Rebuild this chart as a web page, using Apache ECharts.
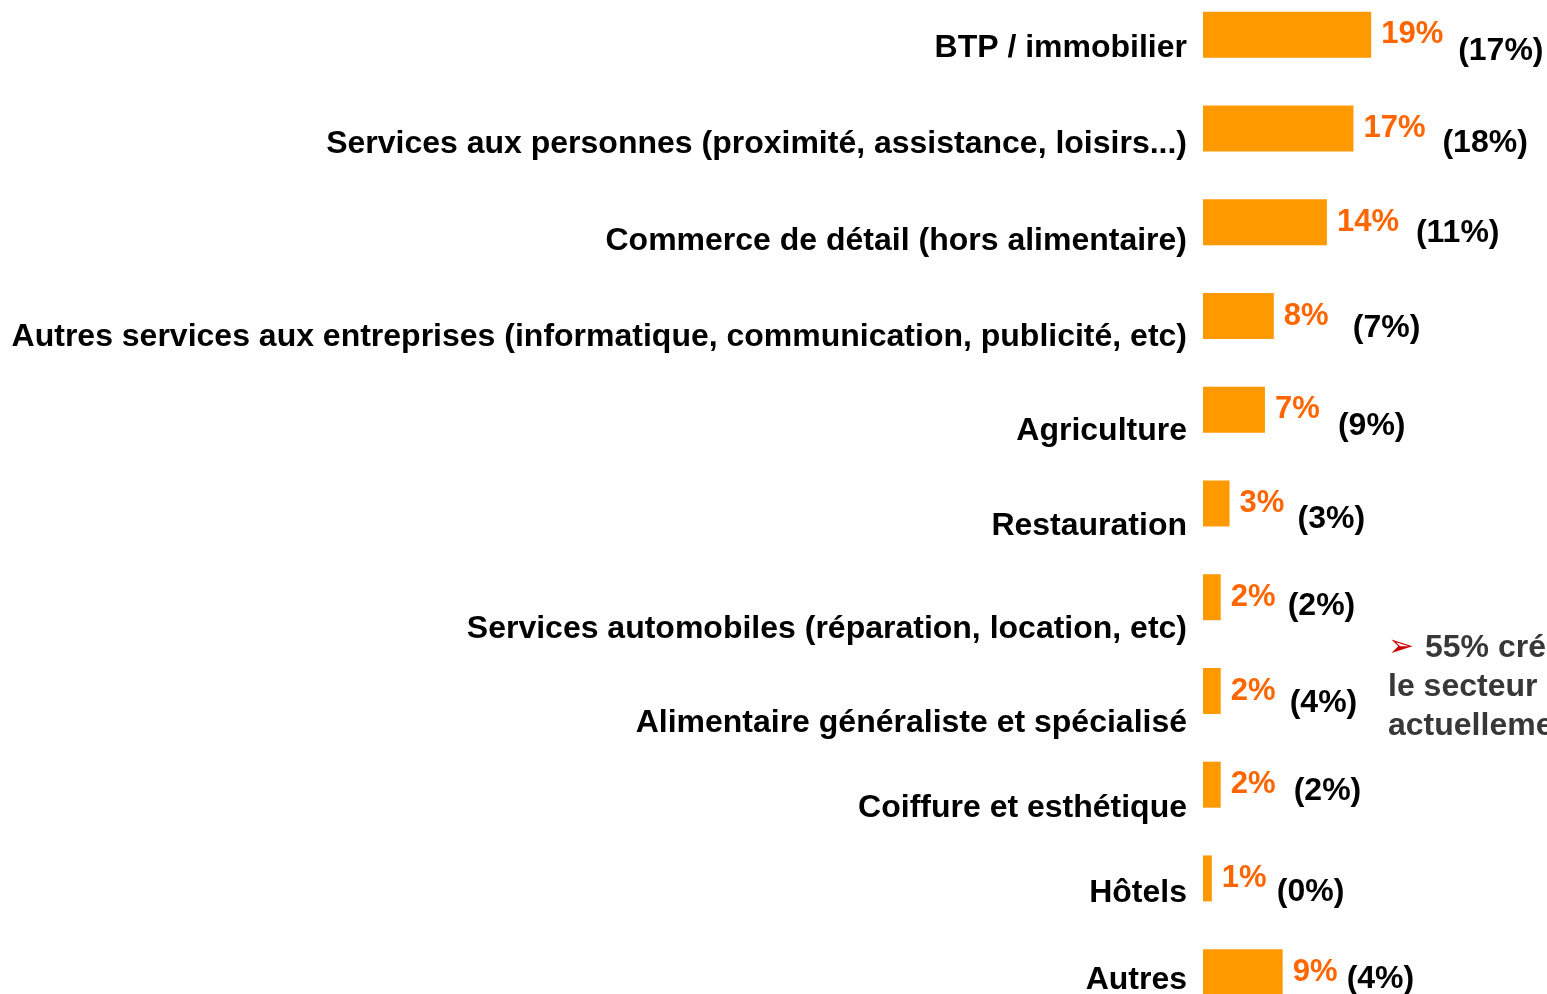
<!DOCTYPE html>
<html>
<head>
<meta charset="utf-8">
<script src="https://cdn.jsdelivr.net/npm/echarts@6/dist/echarts.min.js"></script>
<style>
  html, body { margin: 0; padding: 0; background: #fff; }
  #chart { width: 1547px; height: 994px; }
</style>
</head>
<body>
<div id="chart"></div>
<script>
const categories = [
  "BTP / immobilier",
  "Services aux personnes (proximité, assistance, loisirs...)",
  "Commerce de détail (hors alimentaire)",
  "Autres services aux entreprises (informatique, communication, publicité, etc)",
  "Agriculture",
  "Restauration",
  "Services automobiles (réparation, location, etc)",
  "Alimentaire généraliste et spécialisé",
  "Coiffure et esthétique",
  "Hôtels",
  "Autres",
];
const shareNow = [19, 17, 14, 8, 7, 3, 2, 2, 2, 1, 9];
const sharePrev = [17, 18, 11, 7, 9, 3, 2, 4, 2, 0, 4];

// label nudges, as in the slide
const catShift = [13, 16, 19, 21, 21, 23, 32, 32, 23, 15, 8];
const prevDx = [77, 79, 79, 69, 63, 58, 57, 59, 63, 55, 54];
const prevDy = [16, 15, 11, 12, 16, 16, 9, 12, 6, 14, 7];

const FONT = "'Liberation Sans', Arial, sans-serif";

const catRich = {};
categories.forEach((c, i) => {
  catRich["s" + i] = {
    padding: [catShift[i] * 2, 0, 0, 0],
    fontSize: 32,
    fontWeight: "bold",
    fontFamily: FONT,
    color: "#000",
  };
});

const chart = echarts.init(document.getElementById("chart"));

chart.setOption({
  animation: false,
  backgroundColor: "#fff",
  grid: {
    left: 1203,
    top: -12,
    width: 354,
    height: 1031,
    outerBoundsMode: "none",
    containLabel: false,
  },
  xAxis: { type: "value", min: 0, max: 40, show: false },
  yAxis: {
    type: "category",
    inverse: true,
    data: categories,
    axisLine: { show: false },
    axisTick: { show: false },
    splitLine: { show: false },
    axisLabel: {
      interval: 0,
      margin: 16,
      rich: catRich,
      formatter: (value, idx) => "{s" + idx + "|" + value + "}",
    },
  },
  graphic: [
    {
      type: "text",
      left: 1388,
      top: 632,
      style: {
        text:
          "{ar|➢}{t|55% créées dans}\n{t|le secteur des}\n{t|actuellement}",
        rich: {
          ar: {
            fontSize: 31,
            fill: "#CC0000",
            fontFamily: "'DejaVu Sans'",
            lineHeight: 39,
            padding: [0, 11, 0, 0],
          },
          t: { fontSize: 32, fontWeight: "bold", fill: "#383838", fontFamily: FONT, lineHeight: 39 },
        },
        fontSize: 32,
        fontWeight: "bold",
        fontFamily: FONT,
        fill: "#383838",
      },
    },
  ],
  series: [
    {
      type: "bar",
      data: shareNow,
      barWidth: 46,
      itemStyle: { color: "#FF9900" },
      label: {
        show: true,
        position: "right",
        distance: 10,
        formatter: "{c}%",
        color: "#FF6600",
        fontSize: 31,
        fontWeight: "bold",
        fontFamily: FONT,
      },
    },
    {
      type: "bar",
      data: shareNow.map((v, i) => ({
        value: v,
        label: { offset: [prevDx[i], prevDy[i]] },
      })),
      barWidth: 46,
      barGap: "-100%",
      itemStyle: { color: "rgba(0,0,0,0)" },
      label: {
        show: true,
        position: "right",
        distance: 10,
        formatter: (p) => "(" + sharePrev[p.dataIndex] + "%)",
        color: "#000",
        fontSize: 32,
        fontWeight: "bold",
        fontFamily: FONT,
      },
    },
  ],
});
</script>
</body>
</html>
